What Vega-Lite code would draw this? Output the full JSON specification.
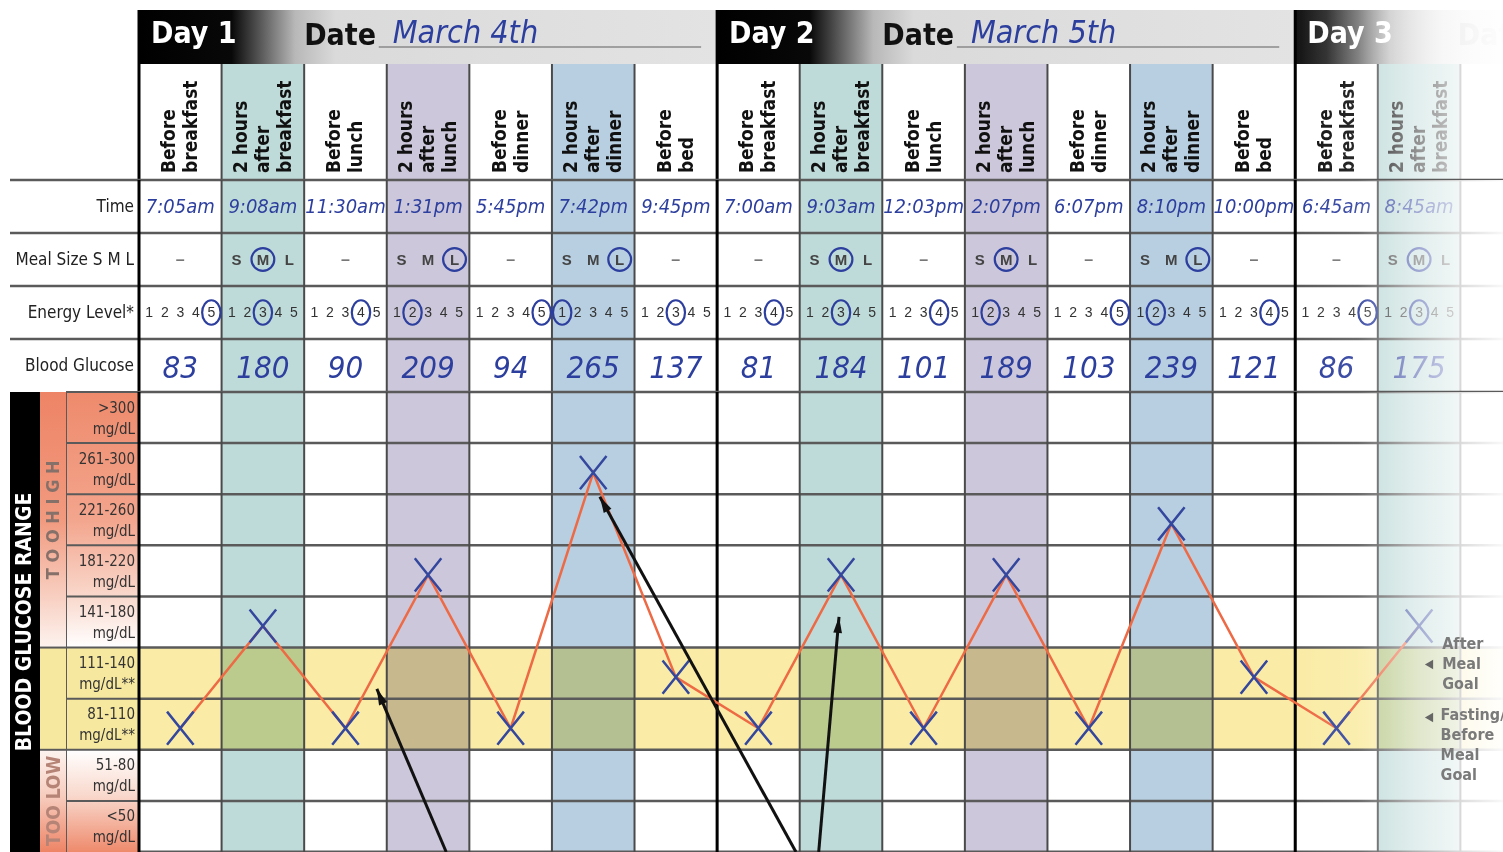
{
  "$schema": "https://vega.github.io/schema/vega-lite/v6.json",
  "background": "white",
  "padding": {"left": 8, "top": 8, "right": 0, "bottom": 2},
  "columns": 4,
  "spacing": 0,
  "bounds": "flush",
  "config": {"view": {"stroke": null}, "axis": {"disable": true}, "legend": {"disable": true}},
  "resolve": {"scale": {"x": "independent", "y": "independent"}},
  "datasets": {
    "cols": [
      {"col": "c01", "kind": "pre", "header": "Before\nbreakfast"},
      {"col": "c02", "kind": "breakfast", "header": "2 hours\nafter\nbreakfast"},
      {"col": "c03", "kind": "pre", "header": "Before\nlunch"},
      {"col": "c04", "kind": "lunch", "header": "2 hours\nafter\nlunch"},
      {"col": "c05", "kind": "pre", "header": "Before\ndinner"},
      {"col": "c06", "kind": "dinner", "header": "2 hours\nafter\ndinner"},
      {"col": "c07", "kind": "pre", "header": "Before\nbed"},
      {"col": "c08", "kind": "pre", "header": "Before\nbreakfast"},
      {"col": "c09", "kind": "breakfast", "header": "2 hours\nafter\nbreakfast"},
      {"col": "c10", "kind": "pre", "header": "Before\nlunch"},
      {"col": "c11", "kind": "lunch", "header": "2 hours\nafter\nlunch"},
      {"col": "c12", "kind": "pre", "header": "Before\ndinner"},
      {"col": "c13", "kind": "dinner", "header": "2 hours\nafter\ndinner"},
      {"col": "c14", "kind": "pre", "header": "Before\nbed"},
      {"col": "c15", "kind": "pre", "header": "Before\nbreakfast"},
      {"col": "c16", "kind": "breakfast", "header": "2 hours\nafter\nbreakfast"}
    ],
    "days": [
      {"day": "Day 1", "start": "c01", "end": "c08", "dateLabel": "Date", "dateCol": "c03", "date": "March 4th", "writeCol": "c04"},
      {"day": "Day 2", "start": "c08", "end": "c15", "dateLabel": "Date", "dateCol": "c10", "date": "March 5th", "writeCol": "c11"},
      {"day": "Day 3", "start": "c15", "dateLabel": "Date", "dateCol": "c16"}
    ],
    "readings": [
      {"col": "c01", "time": "7:05am", "glucose": 83, "range": "81-110", "meal": "–", "energy": "5"},
      {"col": "c02", "time": "9:08am", "glucose": 180, "range": "141-180", "meal": "M", "energy": "3"},
      {"col": "c03", "time": "11:30am", "glucose": 90, "range": "81-110", "meal": "–", "energy": "4"},
      {"col": "c04", "time": "1:31pm", "glucose": 209, "range": "181-220", "meal": "L", "energy": "2"},
      {"col": "c05", "time": "5:45pm", "glucose": 94, "range": "81-110", "meal": "–", "energy": "5"},
      {"col": "c06", "time": "7:42pm", "glucose": 265, "range": "261-300", "meal": "L", "energy": "1"},
      {"col": "c07", "time": "9:45pm", "glucose": 137, "range": "111-140", "meal": "–", "energy": "3"},
      {"col": "c08", "time": "7:00am", "glucose": 81, "range": "81-110", "meal": "–", "energy": "4"},
      {"col": "c09", "time": "9:03am", "glucose": 184, "range": "181-220", "meal": "M", "energy": "3"},
      {"col": "c10", "time": "12:03pm", "glucose": 101, "range": "81-110", "meal": "–", "energy": "4"},
      {"col": "c11", "time": "2:07pm", "glucose": 189, "range": "181-220", "meal": "M", "energy": "2"},
      {"col": "c12", "time": "6:07pm", "glucose": 103, "range": "81-110", "meal": "–", "energy": "5"},
      {"col": "c13", "time": "8:10pm", "glucose": 239, "range": "221-260", "meal": "L", "energy": "2"},
      {"col": "c14", "time": "10:00pm", "glucose": 121, "range": "111-140", "meal": "–", "energy": "4"},
      {"col": "c15", "time": "6:45am", "glucose": 86, "range": "81-110", "meal": "–", "energy": "5"},
      {"col": "c16", "time": "8:45am", "glucose": 175, "range": "141-180", "meal": "M", "energy": "3"}
    ],
    "letters": [
      {"col": "c02", "letter": "S"}, {"col": "c02", "letter": "M"}, {"col": "c02", "letter": "L"},
      {"col": "c04", "letter": "S"}, {"col": "c04", "letter": "M"}, {"col": "c04", "letter": "L"},
      {"col": "c06", "letter": "S"}, {"col": "c06", "letter": "M"}, {"col": "c06", "letter": "L"},
      {"col": "c09", "letter": "S"}, {"col": "c09", "letter": "M"}, {"col": "c09", "letter": "L"},
      {"col": "c11", "letter": "S"}, {"col": "c11", "letter": "M"}, {"col": "c11", "letter": "L"},
      {"col": "c13", "letter": "S"}, {"col": "c13", "letter": "M"}, {"col": "c13", "letter": "L"},
      {"col": "c16", "letter": "S"}, {"col": "c16", "letter": "M"}, {"col": "c16", "letter": "L"}
    ],
    "digits": [
      {"col": "c01", "level": "1"}, {"col": "c01", "level": "2"}, {"col": "c01", "level": "3"}, {"col": "c01", "level": "4"}, {"col": "c01", "level": "5"},
      {"col": "c02", "level": "1"}, {"col": "c02", "level": "2"}, {"col": "c02", "level": "3"}, {"col": "c02", "level": "4"}, {"col": "c02", "level": "5"},
      {"col": "c03", "level": "1"}, {"col": "c03", "level": "2"}, {"col": "c03", "level": "3"}, {"col": "c03", "level": "4"}, {"col": "c03", "level": "5"},
      {"col": "c04", "level": "1"}, {"col": "c04", "level": "2"}, {"col": "c04", "level": "3"}, {"col": "c04", "level": "4"}, {"col": "c04", "level": "5"},
      {"col": "c05", "level": "1"}, {"col": "c05", "level": "2"}, {"col": "c05", "level": "3"}, {"col": "c05", "level": "4"}, {"col": "c05", "level": "5"},
      {"col": "c06", "level": "1"}, {"col": "c06", "level": "2"}, {"col": "c06", "level": "3"}, {"col": "c06", "level": "4"}, {"col": "c06", "level": "5"},
      {"col": "c07", "level": "1"}, {"col": "c07", "level": "2"}, {"col": "c07", "level": "3"}, {"col": "c07", "level": "4"}, {"col": "c07", "level": "5"},
      {"col": "c08", "level": "1"}, {"col": "c08", "level": "2"}, {"col": "c08", "level": "3"}, {"col": "c08", "level": "4"}, {"col": "c08", "level": "5"},
      {"col": "c09", "level": "1"}, {"col": "c09", "level": "2"}, {"col": "c09", "level": "3"}, {"col": "c09", "level": "4"}, {"col": "c09", "level": "5"},
      {"col": "c10", "level": "1"}, {"col": "c10", "level": "2"}, {"col": "c10", "level": "3"}, {"col": "c10", "level": "4"}, {"col": "c10", "level": "5"},
      {"col": "c11", "level": "1"}, {"col": "c11", "level": "2"}, {"col": "c11", "level": "3"}, {"col": "c11", "level": "4"}, {"col": "c11", "level": "5"},
      {"col": "c12", "level": "1"}, {"col": "c12", "level": "2"}, {"col": "c12", "level": "3"}, {"col": "c12", "level": "4"}, {"col": "c12", "level": "5"},
      {"col": "c13", "level": "1"}, {"col": "c13", "level": "2"}, {"col": "c13", "level": "3"}, {"col": "c13", "level": "4"}, {"col": "c13", "level": "5"},
      {"col": "c14", "level": "1"}, {"col": "c14", "level": "2"}, {"col": "c14", "level": "3"}, {"col": "c14", "level": "4"}, {"col": "c14", "level": "5"},
      {"col": "c15", "level": "1"}, {"col": "c15", "level": "2"}, {"col": "c15", "level": "3"}, {"col": "c15", "level": "4"}, {"col": "c15", "level": "5"},
      {"col": "c16", "level": "1"}, {"col": "c16", "level": "2"}, {"col": "c16", "level": "3"}, {"col": "c16", "level": "4"}, {"col": "c16", "level": "5"}
    ],
    "ranges": [
      {"range": ">300", "label": ">300\nmg/dL"},
      {"range": "261-300", "label": "261-300\nmg/dL"},
      {"range": "221-260", "label": "221-260\nmg/dL"},
      {"range": "181-220", "label": "181-220\nmg/dL"},
      {"range": "141-180", "label": "141-180\nmg/dL"},
      {"range": "111-140", "label": "111-140\nmg/dL**"},
      {"range": "81-110", "label": "81-110\nmg/dL**"},
      {"range": "51-80", "label": "51-80\nmg/dL"},
      {"range": "<50", "label": "<50\nmg/dL"}
    ],
    "zones": [
      {"zone": "high", "top": ">300", "bottom": "141-180", "label": "T O O   H I G H"},
      {"zone": "goal", "top": "111-140", "bottom": "81-110", "label": ""},
      {"zone": "low", "top": "51-80", "bottom": "<50", "label": "TOO LOW"}
    ],
    "rowLabels": [
      {"row": "time", "label": "Time"},
      {"row": "meal", "label": "Meal Size  S M L"},
      {"row": "energy", "label": "Energy Level*"},
      {"row": "glucose", "label": "Blood Glucose"}
    ],
    "arrows": [
      {"arrow": 1, "tipCol": "c03", "tipRange": "111-140", "tailCol": "c04"},
      {"arrow": 2, "tipCol": "c06", "tipRange": "221-260", "tailCol": "c08"},
      {"arrow": 3, "tipCol": "c09", "tipRange": "141-180", "tailCol": "c09"}
    ],
    "notes": [
      {"note": "After\nMeal\nGoal", "range": "111-140", "col": "c16"},
      {"note": "Fasting/\nBefore\nMeal\nGoal", "range": "81-110", "col": "c16"}
    ],
    "strip": [{"label": "BLOOD GLUCOSE RANGE"}],
    "blank": [{"blank": ""}]
  },
  "concat": [
    {"width": 30, "height": 54, "data": {"name": "blank"}, "mark": {"type": "text"}, "encoding": {"text": {"field": "blank"}}},
    {"width": 27, "height": 54, "data": {"name": "blank"}, "mark": {"type": "text"}, "encoding": {"text": {"field": "blank"}}},
    {"width": 72, "height": 54, "data": {"name": "blank"}, "mark": {"type": "text"}, "encoding": {"text": {"field": "blank"}}},
    {
      "width": 1366, "height": 54,
      "data": {"name": "days"},
      "layer": [
        {"transform": [{"filter": "datum.day != 'Day 3'"}],
         "mark": {"type": "rect", "fill": {"gradient": "linear", "x1": 0, "y1": 0, "x2": 1, "y2": 0, "stops": [{"offset": 0, "color": "#000000"}, {"offset": 0.16, "color": "#080808"}, {"offset": 0.27, "color": "#b8b8b8"}, {"offset": 0.34, "color": "#dadada"}, {"offset": 1, "color": "#e3e3e3"}]}},
         "encoding": {"x": {"field": "start", "type": "nominal", "bandPosition": 0, "scale": {"domain": ["c01","c02","c03","c04","c05","c06","c07","c08","c09","c10","c11","c12","c13","c14","c15","c16"], "paddingInner": 0, "paddingOuter": 0.27, "align": 0}}, "x2": {"field": "end", "bandPosition": 0}}},
        {"transform": [{"filter": "datum.day == 'Day 3'"}],
         "mark": {"type": "rect", "fill": {"gradient": "linear", "x1": 0, "y1": 0, "x2": 1, "y2": 0, "stops": [{"offset": 0, "color": "#111111"}, {"offset": 0.15, "color": "#2a2a2a"}, {"offset": 0.45, "color": "#bdbdbd"}, {"offset": 0.7, "color": "#e6e6e6"}, {"offset": 1, "color": "#f0f0f0"}]}},
         "encoding": {"x": {"field": "start", "type": "nominal", "bandPosition": 0}, "x2": {"value": "width"}}},
        {"mark": {"type": "rule", "color": "#000000", "strokeWidth": 3},
         "encoding": {"x": {"field": "start", "type": "nominal", "bandPosition": 0}}},
        {"mark": {"type": "text", "align": "left", "baseline": "middle", "font": "Liberation Sans Narrow, DejaVu Sans Condensed, Arial Narrow, sans-serif", "fontWeight": "bold", "fontSize": 30, "color": "#ffffff", "xOffset": 12, "yOffset": -3},
         "encoding": {"x": {"field": "start", "type": "nominal", "bandPosition": 0}, "text": {"field": "day"}}},
        {"transform": [{"filter": "datum.day != 'Day 3'"}],
         "mark": {"type": "text", "align": "left", "baseline": "middle", "font": "Liberation Sans Narrow, DejaVu Sans Condensed, Arial Narrow, sans-serif", "fontWeight": "bold", "fontSize": 30, "color": "#111111", "yOffset": -1},
         "encoding": {"x": {"field": "dateCol", "type": "nominal", "bandPosition": 0}, "text": {"field": "dateLabel"}}},
        {"transform": [{"filter": "datum.day == 'Day 3'"}],
         "mark": {"type": "text", "align": "left", "baseline": "middle", "font": "Liberation Sans Narrow, DejaVu Sans Condensed, Arial Narrow, sans-serif", "fontWeight": "bold", "fontSize": 30, "color": "#c8c8c8", "xOffset": 80, "yOffset": -1, "clip": true},
         "encoding": {"x": {"field": "dateCol", "type": "nominal", "bandPosition": 0}, "text": {"field": "dateLabel"}}},
        {"transform": [{"filter": "datum.day != 'Day 3'"}],
         "mark": {"type": "text", "align": "left", "baseline": "middle", "font": "DejaVu Sans Condensed, Liberation Sans Narrow, sans-serif", "fontStyle": "italic", "fontSize": 32, "color": "#2d3f9e", "xOffset": 6, "yOffset": -4},
         "encoding": {"x": {"field": "writeCol", "type": "nominal", "bandPosition": 0}, "text": {"field": "date"}}},
        {"transform": [{"filter": "datum.day != 'Day 3'"}],
         "mark": {"type": "rule", "color": "#8a8a8a", "strokeWidth": 1.5, "xOffset": -8, "x2Offset": -16, "yOffset": 10},
         "encoding": {"x": {"field": "writeCol", "type": "nominal", "bandPosition": 0}, "x2": {"field": "end", "bandPosition": 0}}},
        {"transform": [{"filter": "datum.day == 'Day 3'"}],
         "mark": {"type": "rect", "clip": true, "fill": {"gradient": "linear", "x1": 0, "y1": 0, "x2": 1, "y2": 0, "stops": [{"offset": 0, "color": "rgba(255,255,255,0)"}, {"offset": 0.3, "color": "rgba(255,255,255,0.1)"}, {"offset": 0.55, "color": "rgba(255,255,255,0.5)"}, {"offset": 0.8, "color": "rgba(255,255,255,0.8)"}, {"offset": 1, "color": "rgba(255,255,255,0.97)"}]}},
         "encoding": {"x": {"field": "start", "type": "nominal", "bandPosition": 0}, "x2": {"value": "width"}}}
      ]
    },
    {"width": 30, "height": 116, "data": {"name": "blank"}, "mark": {"type": "text"}, "encoding": {"text": {"field": "blank"}}},
    {"width": 27, "height": 116, "data": {"name": "blank"}, "mark": {"type": "text"}, "encoding": {"text": {"field": "blank"}}},
    {"width": 72, "height": 116, "data": {"name": "blank"}, "mark": {"type": "text"}, "encoding": {"text": {"field": "blank"}}},
    {
      "width": 1366, "height": 116,
      "layer": [
        {"data": {"name": "cols"}, "mark": {"type": "rect"},
         "encoding": {"x": {"field": "col", "type": "nominal", "scale": {"domain": ["c01","c02","c03","c04","c05","c06","c07","c08","c09","c10","c11","c12","c13","c14","c15","c16"], "paddingInner": 0, "paddingOuter": 0.27, "align": 0}},
                      "fill": {"field": "kind", "type": "nominal", "scale": {"domain": ["pre", "breakfast", "lunch", "dinner"], "range": ["#ffffff", "#bfdbd9", "#ccc7da", "#b8cfe1"]}, "legend": null}}},
        {"data": {"name": "cols"}, "transform": [{"filter": "indexof(datum.header, 'hours') < 0"}],
         "mark": {"type": "text", "angle": 270, "align": "left", "baseline": "middle", "lineBreak": "\n", "font": "Liberation Sans Narrow, DejaVu Sans Condensed, Arial Narrow, sans-serif", "fontWeight": "bold", "fontSize": 19, "lineHeight": 22, "color": "#111111", "yOffset": -7, "dy": -11},
         "encoding": {"x": {"field": "col", "type": "nominal"}, "y": {"value": "height"}, "text": {"field": "header"}}},
        {"data": {"name": "cols"}, "transform": [{"filter": "indexof(datum.header, 'hours') >= 0"}],
         "mark": {"type": "text", "angle": 270, "align": "left", "baseline": "middle", "lineBreak": "\n", "font": "Liberation Sans Narrow, DejaVu Sans Condensed, Arial Narrow, sans-serif", "fontWeight": "bold", "fontSize": 19, "lineHeight": 22, "color": "#111111", "yOffset": -7, "dy": -22},
         "encoding": {"x": {"field": "col", "type": "nominal"}, "y": {"value": "height"}, "text": {"field": "header"}}},
        {"data": {"name": "cols"}, "mark": {"type": "rule", "color": "#4a4a4a", "strokeWidth": 2},
         "encoding": {"x": {"field": "col", "type": "nominal", "bandPosition": 0}}},
        {"data": {"name": "cols"}, "transform": [{"filter": "datum.col == 'c16'"}], "mark": {"type": "rule", "color": "#4a4a4a", "strokeWidth": 2},
         "encoding": {"x": {"field": "col", "type": "nominal", "bandPosition": 1}}},
        {"data": {"name": "days"}, "mark": {"type": "rule", "color": "#000000", "strokeWidth": 3},
         "encoding": {"x": {"field": "start", "type": "nominal", "bandPosition": 0}}},
        {"data": {"name": "days"}, "transform": [{"filter": "datum.day == 'Day 3'"}],
         "mark": {"type": "rect", "clip": true, "fill": {"gradient": "linear", "x1": 0, "y1": 0, "x2": 1, "y2": 0, "stops": [{"offset": 0, "color": "rgba(255,255,255,0)"}, {"offset": 0.3, "color": "rgba(255,255,255,0.1)"}, {"offset": 0.55, "color": "rgba(255,255,255,0.5)"}, {"offset": 0.8, "color": "rgba(255,255,255,0.8)"}, {"offset": 1, "color": "rgba(255,255,255,0.97)"}]}},
         "encoding": {"x": {"field": "start", "type": "nominal", "bandPosition": 0}, "x2": {"value": "width"}}}
      ]
    },
    {"width": 30, "height": 212, "data": {"name": "rowLabels"}, "mark": {"type": "rule", "color": "#5a5a5a", "strokeWidth": 2.5},
     "encoding": {"y": {"field": "row", "type": "nominal", "bandPosition": 0, "scale": {"domain": ["time", "meal", "energy", "glucose"], "paddingInner": 0, "paddingOuter": 0}}}},
    {"width": 27, "height": 212, "data": {"name": "rowLabels"}, "mark": {"type": "rule", "color": "#5a5a5a", "strokeWidth": 2.5},
     "encoding": {"y": {"field": "row", "type": "nominal", "bandPosition": 0, "scale": {"domain": ["time", "meal", "energy", "glucose"], "paddingInner": 0, "paddingOuter": 0}}}},
    {
      "width": 72, "height": 212,
      "data": {"name": "rowLabels"},
      "layer": [
        {"mark": {"type": "rule", "color": "#5a5a5a", "strokeWidth": 2.5},
         "encoding": {"y": {"field": "row", "type": "nominal", "bandPosition": 0, "scale": {"domain": ["time", "meal", "energy", "glucose"], "paddingInner": 0, "paddingOuter": 0}}}},
        {"mark": {"type": "text", "align": "right", "baseline": "middle", "font": "Liberation Sans Narrow, DejaVu Sans Condensed, Arial Narrow, sans-serif", "fontSize": 17, "color": "#222222", "xOffset": -5},
         "encoding": {"x": {"value": "width"}, "y": {"field": "row", "type": "nominal"}, "text": {"field": "label"}}}
      ]
    },
    {
      "width": 1366, "height": 212,
      "resolve": {"scale": {"xOffset": "independent"}},
      "layer": [
        {"data": {"name": "cols"}, "mark": {"type": "rect"},
         "encoding": {"x": {"field": "col", "type": "nominal", "scale": {"domain": ["c01","c02","c03","c04","c05","c06","c07","c08","c09","c10","c11","c12","c13","c14","c15","c16"], "paddingInner": 0, "paddingOuter": 0.27, "align": 0}},
                      "fill": {"field": "kind", "type": "nominal", "scale": {"domain": ["pre", "breakfast", "lunch", "dinner"], "range": ["#ffffff", "#bfdbd9", "#ccc7da", "#b8cfe1"]}, "legend": null}}},
        {"data": {"name": "rowLabels"}, "mark": {"type": "rule", "color": "#5a5a5a", "strokeWidth": 2.5},
         "encoding": {"y": {"field": "row", "type": "nominal", "bandPosition": 0, "scale": {"domain": ["time", "meal", "energy", "glucose"], "paddingInner": 0, "paddingOuter": 0}}}},
        {"data": {"name": "cols"}, "mark": {"type": "rule", "color": "#4a4a4a", "strokeWidth": 2},
         "encoding": {"x": {"field": "col", "type": "nominal", "bandPosition": 0}}},
        {"data": {"name": "cols"}, "transform": [{"filter": "datum.col == 'c16'"}], "mark": {"type": "rule", "color": "#4a4a4a", "strokeWidth": 2},
         "encoding": {"x": {"field": "col", "type": "nominal", "bandPosition": 1}}},
        {"data": {"name": "days"}, "mark": {"type": "rule", "color": "#000000", "strokeWidth": 3},
         "encoding": {"x": {"field": "start", "type": "nominal", "bandPosition": 0}}},
        {"data": {"name": "readings"}, "mark": {"type": "text", "baseline": "middle", "font": "DejaVu Sans Condensed, Liberation Sans Narrow, sans-serif", "fontStyle": "italic", "fontSize": 20, "color": "#2d3f9e"},
         "encoding": {"x": {"field": "col", "type": "nominal"}, "y": {"datum": "time", "type": "nominal"}, "text": {"field": "time"}}},
        {"data": {"name": "readings"}, "transform": [{"filter": "datum.meal == '–'"}], "mark": {"type": "text", "baseline": "middle", "fontSize": 16, "fontWeight": "bold", "color": "#777777"},
         "encoding": {"x": {"field": "col", "type": "nominal"}, "y": {"datum": "meal", "type": "nominal"}, "text": {"field": "meal"}}},
        {"data": {"name": "letters"}, "mark": {"type": "text", "baseline": "middle", "font": "Liberation Sans, Arial, sans-serif", "fontWeight": "bold", "fontSize": 15, "color": "#444444"},
         "encoding": {"x": {"field": "col", "type": "nominal"}, "xOffset": {"field": "letter", "type": "nominal", "scale": {"type": "point", "domain": ["S", "M", "L"], "padding": 0.56}}, "y": {"datum": "meal", "type": "nominal"}, "text": {"field": "letter"}}},
        {"data": {"name": "readings"}, "transform": [{"filter": "datum.meal != '–'"}], "mark": {"type": "point", "shape": "circle", "filled": false, "stroke": "#2d3f9e", "strokeWidth": 2.2, "size": 520, "opacity": 1},
         "encoding": {"x": {"field": "col", "type": "nominal"}, "xOffset": {"field": "meal", "type": "nominal", "scale": {"type": "point", "domain": ["S", "M", "L"], "padding": 0.56}}, "y": {"datum": "meal", "type": "nominal"}}},
        {"data": {"name": "digits"}, "mark": {"type": "text", "baseline": "middle", "font": "Liberation Sans, Arial, sans-serif", "fontSize": 14, "color": "#333333"},
         "encoding": {"x": {"field": "col", "type": "nominal"}, "xOffset": {"field": "level", "type": "nominal", "scale": {"type": "point", "domain": ["1", "2", "3", "4", "5"], "padding": 0.66}}, "y": {"datum": "energy", "type": "nominal"}, "text": {"field": "level"}}},
        {"data": {"name": "readings"}, "mark": {"type": "point", "shape": "M0,-1A0.75,1 0 1,1 0,1A0.75,1 0 1,1 0,-1Z", "filled": false, "stroke": "#2d3f9e", "strokeWidth": 2.2, "size": 600, "opacity": 1},
         "encoding": {"x": {"field": "col", "type": "nominal"}, "xOffset": {"field": "energy", "type": "nominal", "scale": {"type": "point", "domain": ["1", "2", "3", "4", "5"], "padding": 0.66}}, "y": {"datum": "energy", "type": "nominal"}}},
        {"data": {"name": "readings"}, "mark": {"type": "text", "baseline": "middle", "font": "DejaVu Sans Condensed, Liberation Sans Narrow, sans-serif", "fontStyle": "italic", "fontSize": 31, "color": "#2d3f9e", "yOffset": 3},
         "encoding": {"x": {"field": "col", "type": "nominal"}, "y": {"datum": "glucose", "type": "nominal"}, "text": {"field": "glucose"}}},
        {"data": {"name": "days"}, "transform": [{"filter": "datum.day == 'Day 3'"}],
         "mark": {"type": "rect", "clip": true, "fill": {"gradient": "linear", "x1": 0, "y1": 0, "x2": 1, "y2": 0, "stops": [{"offset": 0, "color": "rgba(255,255,255,0)"}, {"offset": 0.3, "color": "rgba(255,255,255,0.1)"}, {"offset": 0.55, "color": "rgba(255,255,255,0.5)"}, {"offset": 0.8, "color": "rgba(255,255,255,0.8)"}, {"offset": 1, "color": "rgba(255,255,255,0.97)"}]}},
         "encoding": {"x": {"field": "start", "type": "nominal", "bandPosition": 0}, "x2": {"value": "width"}}}
      ]
    },
    {
      "width": 30, "height": 460,
      "data": {"name": "strip"},
      "layer": [
        {"mark": {"type": "rect", "color": "#000000"}, "encoding": {}},
        {"mark": {"type": "text", "angle": 270, "align": "center", "baseline": "middle", "font": "Liberation Sans Narrow, DejaVu Sans Condensed, Arial Narrow, sans-serif", "fontWeight": "bold", "fontSize": 21, "color": "#ffffff"},
         "encoding": {"text": {"field": "label"}}}
      ]
    },
    {
      "width": 27, "height": 460,
      "data": {"name": "zones"},
      "layer": [
        {"transform": [{"filter": "datum.zone == 'high'"}],
         "mark": {"type": "rect", "fill": {"gradient": "linear", "x1": 0, "y1": 0, "x2": 0, "y2": 1, "stops": [{"offset": 0, "color": "#ee8466"}, {"offset": 0.5, "color": "#f19a7f"}, {"offset": 0.8, "color": "#f8cfc1"}, {"offset": 1, "color": "#fdf3ef"}]}},
         "encoding": {"y": {"field": "top", "type": "nominal", "bandPosition": 0, "scale": {"domain": [">300","261-300","221-260","181-220","141-180","111-140","81-110","51-80","<50"], "paddingInner": 0, "paddingOuter": 0}}, "y2": {"field": "bottom", "bandPosition": 1}}},
        {"transform": [{"filter": "datum.zone == 'goal'"}], "mark": {"type": "rect", "color": "#f7e8a0"},
         "encoding": {"y": {"field": "top", "type": "nominal", "bandPosition": 0}, "y2": {"field": "bottom", "bandPosition": 1}}},
        {"transform": [{"filter": "datum.zone == 'low'"}],
         "mark": {"type": "rect", "fill": {"gradient": "linear", "x1": 0, "y1": 0, "x2": 0, "y2": 1, "stops": [{"offset": 0, "color": "#fdf3ef"}, {"offset": 0.45, "color": "#f7cdbf"}, {"offset": 1, "color": "#ee8466"}]}},
         "encoding": {"y": {"field": "top", "type": "nominal", "bandPosition": 0}, "y2": {"field": "bottom", "bandPosition": 1}}},
        {"transform": [{"filter": "datum.zone != 'high'"}], "mark": {"type": "rule", "color": "#5a5a5a", "strokeWidth": 2},
         "encoding": {"y": {"field": "top", "type": "nominal", "bandPosition": 0}}},
        {"transform": [{"filter": "datum.zone == 'high'"}], "mark": {"type": "text", "angle": 270, "align": "center", "baseline": "middle", "font": "Liberation Sans Narrow, DejaVu Sans Condensed, Arial Narrow, sans-serif", "fontWeight": "bold", "fontSize": 18, "color": "#85706a"},
         "encoding": {"y": {"datum": "221-260", "type": "nominal", "bandPosition": 0.5}, "text": {"field": "label"}}},
        {"transform": [{"filter": "datum.zone == 'low'"}], "mark": {"type": "text", "angle": 270, "align": "center", "baseline": "middle", "font": "Liberation Sans Narrow, DejaVu Sans Condensed, Arial Narrow, sans-serif", "fontWeight": "bold", "fontSize": 19, "color": "#b58476"},
         "encoding": {"y": {"field": "bottom", "type": "nominal", "bandPosition": 0}, "text": {"field": "label"}}}
      ]
    },
    {
      "width": 72, "height": 460,
      "view": {"stroke": "#5a5a5a", "strokeWidth": 2},
      "layer": [
        {"data": {"name": "zones"}, "transform": [{"filter": "datum.zone == 'high'"}],
         "mark": {"type": "rect", "fill": {"gradient": "linear", "x1": 0, "y1": 0, "x2": 0, "y2": 1, "stops": [{"offset": 0, "color": "#ee8a6c"}, {"offset": 0.5, "color": "#f3a58d"}, {"offset": 0.8, "color": "#f9d8cc"}, {"offset": 1, "color": "#ffffff"}]}},
         "encoding": {"y": {"field": "top", "type": "nominal", "bandPosition": 0, "scale": {"domain": [">300","261-300","221-260","181-220","141-180","111-140","81-110","51-80","<50"], "paddingInner": 0, "paddingOuter": 0}}, "y2": {"field": "bottom", "bandPosition": 1}}},
        {"data": {"name": "zones"}, "transform": [{"filter": "datum.zone == 'goal'"}], "mark": {"type": "rect", "color": "#f7e8a0"},
         "encoding": {"y": {"field": "top", "type": "nominal", "bandPosition": 0}, "y2": {"field": "bottom", "bandPosition": 1}}},
        {"data": {"name": "zones"}, "transform": [{"filter": "datum.zone == 'low'"}],
         "mark": {"type": "rect", "fill": {"gradient": "linear", "x1": 0, "y1": 0, "x2": 0, "y2": 1, "stops": [{"offset": 0, "color": "#ffffff"}, {"offset": 0.45, "color": "#f9d8cc"}, {"offset": 1, "color": "#ee8a6c"}]}},
         "encoding": {"y": {"field": "top", "type": "nominal", "bandPosition": 0}, "y2": {"field": "bottom", "bandPosition": 1}}},
        {"data": {"name": "ranges"}, "mark": {"type": "rule", "color": "#5a5a5a", "strokeWidth": 2},
         "encoding": {"y": {"field": "range", "type": "nominal", "bandPosition": 0}}},
        {"data": {"name": "ranges"}, "mark": {"type": "text", "align": "right", "baseline": "middle", "lineBreak": "\n", "lineHeight": 21, "font": "Liberation Sans Narrow, DejaVu Sans Condensed, Arial Narrow, sans-serif", "fontSize": 15, "color": "#333333", "xOffset": -4, "yOffset": -10},
         "encoding": {"x": {"value": "width"}, "y": {"field": "range", "type": "nominal"}, "text": {"field": "label"}}}
      ]
    },
    {
      "width": 1366, "height": 460,
      "layer": [
        {"data": {"name": "cols"}, "mark": {"type": "rect"},
         "encoding": {"x": {"field": "col", "type": "nominal", "scale": {"domain": ["c01","c02","c03","c04","c05","c06","c07","c08","c09","c10","c11","c12","c13","c14","c15","c16"], "paddingInner": 0, "paddingOuter": 0.27, "align": 0}},
                      "fill": {"field": "kind", "type": "nominal", "scale": {"domain": ["pre", "breakfast", "lunch", "dinner"], "range": ["#ffffff", "#bfdbd9", "#ccc7da", "#b8cfe1"]}, "legend": null}}},
        {"data": {"name": "zones"}, "transform": [{"filter": "datum.zone == 'goal'"}], "mark": {"type": "rect", "color": "#faeca6", "blend": "multiply"},
         "encoding": {"y": {"field": "top", "type": "nominal", "bandPosition": 0, "scale": {"domain": [">300","261-300","221-260","181-220","141-180","111-140","81-110","51-80","<50"], "paddingInner": 0, "paddingOuter": 0}}, "y2": {"field": "bottom", "bandPosition": 1}}},
        {"data": {"name": "ranges"}, "mark": {"type": "rule", "color": "#5a5a5a", "strokeWidth": 2.5},
         "encoding": {"y": {"field": "range", "type": "nominal", "bandPosition": 0}}},
        {"data": {"name": "ranges"}, "transform": [{"filter": "datum.range == '<50'"}], "mark": {"type": "rule", "color": "#5a5a5a", "strokeWidth": 3},
         "encoding": {"y": {"field": "range", "type": "nominal", "bandPosition": 1}}},
        {"data": {"name": "cols"}, "mark": {"type": "rule", "color": "#4a4a4a", "strokeWidth": 2},
         "encoding": {"x": {"field": "col", "type": "nominal", "bandPosition": 0}}},
        {"data": {"name": "cols"}, "transform": [{"filter": "datum.col == 'c16'"}], "mark": {"type": "rule", "color": "#4a4a4a", "strokeWidth": 2},
         "encoding": {"x": {"field": "col", "type": "nominal", "bandPosition": 1}}},
        {"data": {"name": "days"}, "mark": {"type": "rule", "color": "#000000", "strokeWidth": 3},
         "encoding": {"x": {"field": "start", "type": "nominal", "bandPosition": 0}}},
        {"data": {"name": "readings"}, "mark": {"type": "line", "color": "#ee6a45", "strokeWidth": 2.5, "yOffset": 4},
         "encoding": {"x": {"field": "col", "type": "nominal"}, "y": {"field": "range", "type": "nominal"}}},
        {"data": {"name": "readings"}, "mark": {"type": "point", "shape": "M-0.8,-1L0.8,1M-0.8,1L0.8,-1", "filled": false, "stroke": "#34479e", "strokeWidth": 2.5, "size": 1100, "opacity": 1, "yOffset": 4},
         "encoding": {"x": {"field": "col", "type": "nominal"}, "y": {"field": "range", "type": "nominal"}}},
        {"data": {"name": "arrows"}, "transform": [{"filter": "datum.arrow == 1"}],
         "encoding": {"x": {"field": "tipCol", "type": "nominal", "bandPosition": 0.88}, "y": {"field": "tipRange", "type": "nominal", "bandPosition": 0.81}},
         "layer": [
           {"mark": {"type": "rule", "color": "#111111", "strokeWidth": 3}, "encoding": {"x2": {"field": "tailCol", "bandPosition": 0.72}, "y2": {"value": "height"}}},
           {"mark": {"type": "point", "shape": "M0,0L0.55,2L-0.55,2Z", "filled": true, "color": "#111111", "size": 256, "angle": 337, "opacity": 1}}
         ]},
        {"data": {"name": "arrows"}, "transform": [{"filter": "datum.arrow == 2"}],
         "encoding": {"x": {"field": "tipCol", "type": "nominal", "bandPosition": 0.58}, "y": {"field": "tipRange", "type": "nominal", "bandPosition": 0.05}},
         "layer": [
           {"mark": {"type": "rule", "color": "#111111", "strokeWidth": 3}, "encoding": {"x2": {"field": "tailCol", "bandPosition": 0.955}, "y2": {"value": "height"}}},
           {"mark": {"type": "point", "shape": "M0,0L0.55,2L-0.55,2Z", "filled": true, "color": "#111111", "size": 256, "angle": 331, "opacity": 1}}
         ]},
        {"data": {"name": "arrows"}, "transform": [{"filter": "datum.arrow == 3"}],
         "encoding": {"x": {"field": "tipCol", "type": "nominal", "bandPosition": 0.476}, "y": {"field": "tipRange", "type": "nominal", "bandPosition": 0.4}},
         "layer": [
           {"mark": {"type": "rule", "color": "#111111", "strokeWidth": 3}, "encoding": {"x2": {"field": "tailCol", "bandPosition": 0.23}, "y2": {"value": "height"}}},
           {"mark": {"type": "point", "shape": "M0,0L0.55,2L-0.55,2Z", "filled": true, "color": "#111111", "size": 256, "angle": 5, "opacity": 1}}
         ]},
        {"data": {"name": "days"}, "transform": [{"filter": "datum.day == 'Day 3'"}],
         "mark": {"type": "rect", "clip": true, "fill": {"gradient": "linear", "x1": 0, "y1": 0, "x2": 1, "y2": 0, "stops": [{"offset": 0, "color": "rgba(255,255,255,0)"}, {"offset": 0.3, "color": "rgba(255,255,255,0.1)"}, {"offset": 0.55, "color": "rgba(255,255,255,0.5)"}, {"offset": 0.8, "color": "rgba(255,255,255,0.8)"}, {"offset": 1, "color": "rgba(255,255,255,0.97)"}]}},
         "encoding": {"x": {"field": "start", "type": "nominal", "bandPosition": 0}, "x2": {"value": "width"}}},
        {"data": {"name": "notes"}, "transform": [{"filter": "datum.range == '111-140'"}],
         "layer": [
           {"mark": {"type": "text", "align": "left", "baseline": "middle", "lineBreak": "\n", "lineHeight": 20, "font": "Liberation Sans Narrow, DejaVu Sans Condensed, Arial Narrow, sans-serif", "fontWeight": "bold", "fontSize": 16, "color": "#7a7a7a", "yOffset": -20, "clip": true},
            "encoding": {"x": {"field": "col", "type": "nominal", "bandPosition": 0.78}, "y": {"field": "range", "type": "nominal", "bandPosition": 0.33}, "text": {"field": "note"}}},
           {"mark": {"type": "point", "shape": "triangle-left", "filled": true, "color": "#666666", "size": 90, "opacity": 1},
            "encoding": {"x": {"field": "col", "type": "nominal", "bandPosition": 0.62}, "y": {"field": "range", "type": "nominal", "bandPosition": 0.33}}}
         ]},
        {"data": {"name": "notes"}, "transform": [{"filter": "datum.range == '81-110'"}],
         "layer": [
           {"mark": {"type": "text", "align": "left", "baseline": "middle", "lineBreak": "\n", "lineHeight": 20, "font": "Liberation Sans Narrow, DejaVu Sans Condensed, Arial Narrow, sans-serif", "fontWeight": "bold", "fontSize": 16, "color": "#7a7a7a", "yOffset": -30, "clip": true},
            "encoding": {"x": {"field": "col", "type": "nominal", "bandPosition": 0.76}, "y": {"field": "range", "type": "nominal", "bandPosition": 0.9}, "text": {"field": "note"}}},
           {"mark": {"type": "point", "shape": "triangle-left", "filled": true, "color": "#666666", "size": 90, "opacity": 1},
            "encoding": {"x": {"field": "col", "type": "nominal", "bandPosition": 0.62}, "y": {"field": "range", "type": "nominal", "bandPosition": 0.37}}}
         ]}
      ]
    }
  ]
}
